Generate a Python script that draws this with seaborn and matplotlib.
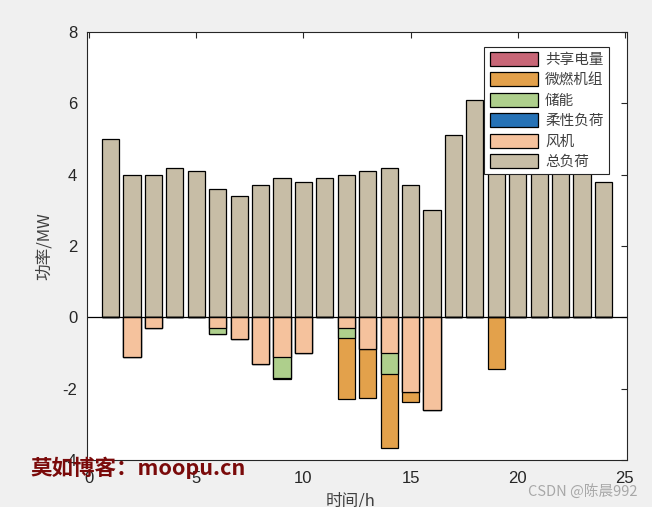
import numpy as np
import pandas as pd
import matplotlib
matplotlib.use("Agg")
import matplotlib.pyplot as plt
import seaborn as sns
from matplotlib.patches import Patch

hours = list(range(1, 25))
total_load = [5.0, 4.0, 4.0, 4.2, 4.1, 3.6, 3.4, 3.7, 3.9, 3.8, 3.9, 4.0,
              4.1, 4.2, 3.7, 3.0, 5.1, 6.1, 5.8, 4.5, 4.6, 4.5, 4.3, 3.8]
wind = [0, -1.1, -0.3, 0, 0, -0.3, -0.6, -1.3, -1.1, -1.0, 0, -0.3,
        -0.9, -1.0, -2.1, -2.6, 0, 0, 0, 0, 0, 0, 0, 0]
storage = [0, 0, 0, 0, 0, -0.17, 0, 0, -0.6, 0, 0, -0.28,
           0, -0.6, 0, 0, 0, 0, 0, 0, 0, 0, 0, 0]
micro_turbine = [0, 0, 0, 0, 0, 0, 0, 0, -0.03, 0, 0, -1.7,
                 -1.35, -2.06, -0.27, 0, 0, 0, -1.44, 0, 0, 0, 0, 0]
shared = [0] * 24
flexible = [0] * 24

labels = ["共享电量", "微燃机组", "储能", "柔性负荷", "风机", "总负荷"]
colors = {"共享电量": "#C86677", "微燃机组": "#E3A14B", "储能": "#AECF8C",
          "柔性负荷": "#2672B6", "风机": "#F5C29D", "总负荷": "#C7BDA6"}

sns.set_style("white")
plt.rcParams['font.family'] = ['Liberation Sans', 'DejaVu Sans']

fig = plt.figure(figsize=(6.52, 5.07), dpi=100, facecolor="#F0F0F0")
ax = fig.add_axes([0.1334, 0.0927, 0.8283, 0.8442])
ax.set_facecolor("white")

# negative stack: wind nearest zero, then storage, then micro-turbine
w = np.array(wind)
s = np.array(storage)
m = np.array(micro_turbine)
stack = [("微燃机组", w + s + m), ("储能", w + s), ("风机", w)]
df_pos = pd.DataFrame({"hour": hours, "val": total_load})
sns.barplot(data=df_pos, x="hour", y="val", native_scale=True, width=0.8,
            color=colors["总负荷"], saturation=1, edgecolor="black",
            linewidth=0.9, errorbar=None, ax=ax)
for name, vals in stack:
    d = pd.DataFrame({"hour": hours, "val": vals})
    sns.barplot(data=d, x="hour", y="val", native_scale=True, width=0.8,
                color=colors[name], saturation=1, edgecolor="black",
                linewidth=0.9, errorbar=None, ax=ax)

ax.axhline(0, color="black", lw=0.9)
ax.set_xlim(-0.1, 25.1)
ax.set_ylim(-4, 8)
ax.set_xticks([0, 5, 10, 15, 20, 25])
ax.set_xticklabels(["0", "5", "10", "15", "20", "25"])
ax.set_yticks([-4, -2, 0, 2, 4, 6, 8])
ax.set_yticklabels(["-4", "-2", "0", "2", "4", "6", "8"])
ax.tick_params(direction="in", length=4, width=0.8, top=True, right=True,
               labelsize=12, colors="#262626")
ax.tick_params(axis="x", pad=8)
ax.tick_params(axis="y", pad=7)
for sp in ax.spines.values():
    sp.set_color("#262626")
    sp.set_linewidth(0.8)
ax.set_xlabel("")
ax.set_ylabel("")

cjk = ['Noto Sans CJK SC', 'DejaVu Sans']
fig.text(0.068, 0.515, "功率/MW", rotation=90, ha="center", va="center",
         fontsize=12, color="#404040", family=cjk)
fig.text(0.538, 0.012, "时间/h", ha="center", va="center",
         fontsize=12, color="#404040", family=cjk)

handles = [Patch(facecolor=colors[l], edgecolor="black", linewidth=0.9) for l in labels]
leg = ax.legend(handles, labels, loc="upper right", bbox_to_anchor=(0.974, 0.976),
                prop={'family': cjk, 'size': 10.5}, frameon=True, fancybox=False,
                edgecolor="#262626", framealpha=1, handlelength=3.3,
                handleheight=1.1, labelspacing=0.38, handletextpad=0.5,
                borderpad=0.35, borderaxespad=0.3)
leg.get_frame().set_linewidth(0.8)
for t in leg.get_texts():
    t.set_color("#404040")

fig.text(0.046, 0.078, "莫如博客：moopu.cn", ha="left", va="center",
         fontsize=15.5, fontweight="bold", color="#7A0A0A", family=cjk)
fig.text(0.977, 0.03, "CSDN @陈晨992", ha="right", va="center",
         fontsize=10.5, color="#A8A8A8", family=cjk)

fig.savefig("out.png", dpi=100, facecolor=fig.get_facecolor())
